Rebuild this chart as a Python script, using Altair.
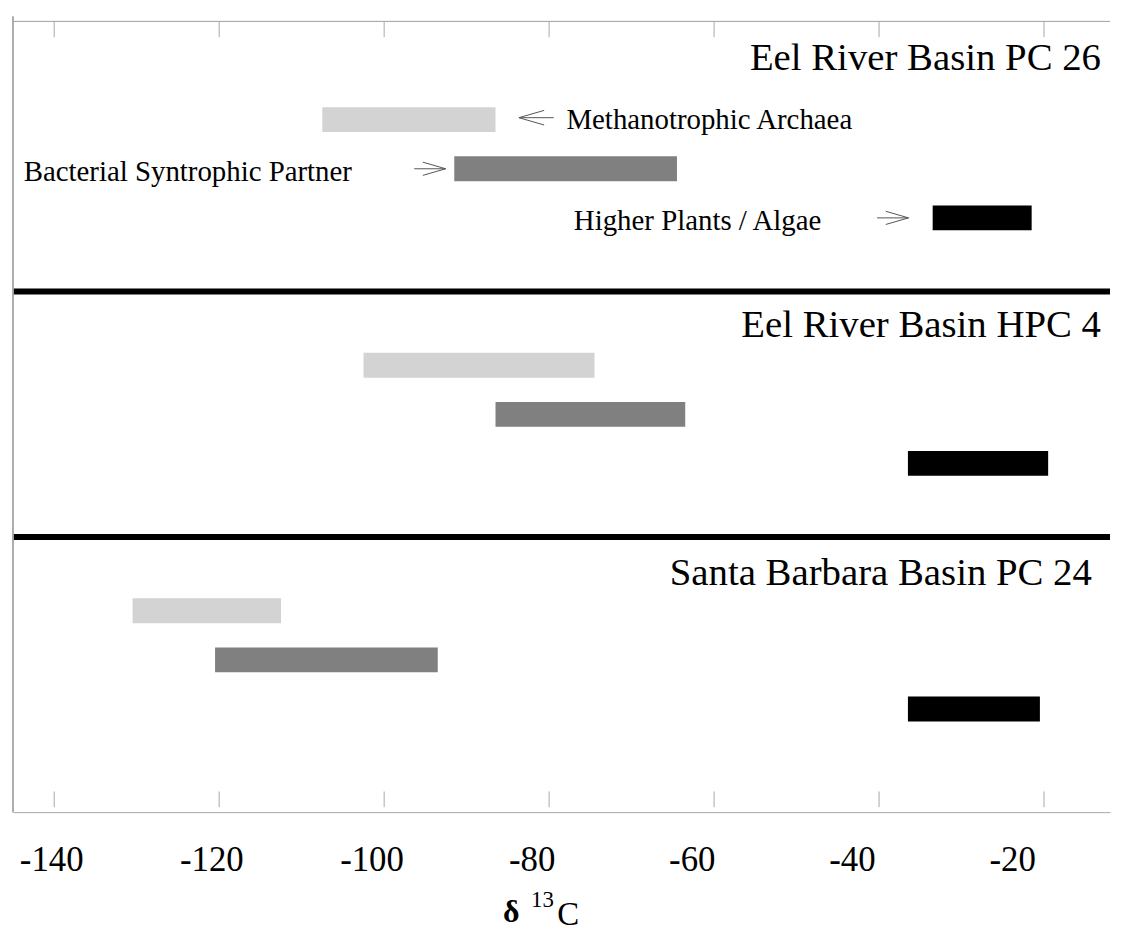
import altair as alt
import pandas as pd

# ---- data ----
PANELS = ["Eel River Basin PC 26", "Eel River Basin HPC 4", "Santa Barbara Basin PC 24"]
GROUPS = ["Methanotrophic Archaea", "Bacterial Syntrophic Partner", "Higher Plants / Algae"]
GROUP_COLORS = ["#d3d3d3", "#808080", "#000000"]
# delta 13C ranges (low, high) per panel, per group
LOW = [[-107.5, -91.5, -33.5], [-102.5, -86.5, -36.5], [-130.5, -120.5, -36.5]]
HIGH = [[-86.5, -64.5, -21.5], [-74.5, -63.5, -19.5], [-112.5, -93.5, -20.5]]
TICKS = [-140, -120, -100, -80, -60, -40, -20]

# ---- annotation layout ----
TITLE_X = [-13.1, -13.1, -14.2]
TITLE_ROW = [0.98, 6.42, 11.48]
LABEL_X = [-77.9, -143.7, -77.0]
LABEL_ROW = [2.2, 3.24, 4.24]
ARROW_X = [-81.55, -94.45, -38.33]
ARROW_ROW = [1.96, 3.0, 4.0]
ARROW_DIR = ["left", "right", "right"]
AXIS_TITLE = ["\u03b4", "13", "C"]
AXIS_TITLE_X = [-85.6, -82.2, -79.0]
AXIS_TITLE_ROW = [18.34, 18.04, 18.4]

FONT = "Liberation Serif"
FRAME = "#a8a8a8"

bars = pd.DataFrame([
    {"panel": PANELS[p], "group": GROUPS[g], "low": LOW[p][g], "high": HIGH[p][g],
     "row": 5 * p + g + 2}
    for p in range(len(PANELS)) for g in range(len(GROUPS))
])
titles = pd.DataFrame({"text": PANELS, "x": TITLE_X, "row": TITLE_ROW})
seps = pd.DataFrame({"row": [5 * p + 0.5 for p in range(1, len(PANELS))]})
labels = pd.DataFrame({"text": GROUPS, "x": LABEL_X, "row": LABEL_ROW})
arrows = pd.DataFrame({"x": ARROW_X, "row": ARROW_ROW, "dir": ARROW_DIR})
ticks = pd.DataFrame({"tick": TICKS})
ax_title = pd.DataFrame({"text": AXIS_TITLE, "x": AXIS_TITLE_X, "row": AXIS_TITLE_ROW})

XS = alt.Scale(domain=[-145, -12], nice=False, zero=False)
YS = alt.Scale(domain=[0, 16], reverse=True, nice=False, zero=False)
AX = alt.Axis(values=TICKS, labelExpr="'' + datum.value", title=None, grid=False,
              ticks=False, tickSize=0, domainColor=FRAME, domainWidth=1,
              labelFont=FONT, labelFontSize=35, labelColor="black",
              labelPadding=59, labelBaseline="alphabetic",
              labelOffset=alt.ExprRef("-3 - (datum.value + 140) * 0.2425"))

def X(field, **kw):
    return alt.X(field, scale=XS, axis=AX, **kw)

def Y(field):
    return alt.Y(field, scale=YS, axis=None)

bar_layer = alt.Chart(bars).mark_bar(size=25).encode(
    x=X("low:Q"), x2="high:Q", y=Y("row:Q"),
    color=alt.Color("group:N", scale=alt.Scale(domain=GROUPS, range=GROUP_COLORS), legend=None),
)

sep_layer = alt.Chart(seps).mark_rule(color="black", strokeWidth=6).encode(y=Y("row:Q"))

top_border = alt.Chart(seps).mark_rule(color=FRAME, strokeWidth=1).encode(
    y=alt.Y(datum=0, scale=YS, axis=None))
left_border = alt.Chart(seps).mark_rule(color=FRAME, strokeWidth=1.5).encode(
    x=alt.X(datum=-145, scale=XS, axis=AX))

bottom_ticks = alt.Chart(ticks).mark_rule(color=FRAME, strokeWidth=1).encode(
    x=X("tick:Q"), y=alt.Y(datum=16, scale=YS, axis=None), y2=alt.datum(15.68))
top_ticks = alt.Chart(ticks).mark_rule(color=FRAME, strokeWidth=1).encode(
    x=X("tick:Q"), y=alt.Y(datum=0, scale=YS, axis=None), y2=alt.datum(0.32))

title_layer = alt.Chart(titles).mark_text(
    font=FONT, fontSize=39, align="right", baseline="alphabetic", color="black"
).encode(x=X("x:Q"), y=Y("row:Q"), text="text:N")

label_layer = alt.Chart(labels).mark_text(
    font=FONT, fontSize=29, align="left", baseline="alphabetic", color="black"
).encode(x=X("x:Q"), y=Y("row:Q"), text="text:N")

LEFT_PATH = "M 1 0 L -1 0 L 0.45 -0.42 M -1 0 L 0.45 0.42"
RIGHT_PATH = "M -1 0 L 1 0 L -0.45 -0.42 M 1 0 L -0.45 0.42"
arrow_left = alt.Chart(arrows).transform_filter("datum.dir == 'left'").mark_point(
    shape=LEFT_PATH, size=1225, filled=False, stroke="#555555", strokeWidth=1, opacity=1
).encode(x=X("x:Q"), y=Y("row:Q"))
arrow_right = alt.Chart(arrows).transform_filter("datum.dir == 'right'").mark_point(
    shape=RIGHT_PATH, size=1000, filled=False, stroke="#555555", strokeWidth=1, opacity=1
).encode(x=X("x:Q"), y=Y("row:Q"))

# x-axis title: bold delta, superscript 13, C
t_delta = alt.Chart(ax_title.iloc[[0]]).mark_text(
    font=FONT, fontSize=32, fontWeight="bold", align="left", baseline="alphabetic", color="black"
).encode(x=X("x:Q"), y=Y("row:Q"), text="text:N")
t_sup = alt.Chart(ax_title.iloc[[1]]).mark_text(
    font=FONT, fontSize=23, align="left", baseline="alphabetic", color="black"
).encode(x=X("x:Q"), y=Y("row:Q"), text="text:N")
t_c = alt.Chart(ax_title.iloc[[2]]).mark_text(
    font=FONT, fontSize=33, align="left", baseline="alphabetic", color="black"
).encode(x=X("x:Q"), y=Y("row:Q"), text="text:N")

chart = alt.layer(
    bar_layer, sep_layer, top_border, left_border, bottom_ticks, top_ticks,
    title_layer, label_layer, arrow_left, arrow_right, t_delta, t_sup, t_c
).properties(
    width=1103, height=800,
    padding={"left": 2, "top": 5, "right": 0, "bottom": 0},
    background="white",
).configure_view(strokeWidth=0, stroke=None)

chart.save("out.html", embed_options={"renderer": "svg", "actions": False})
